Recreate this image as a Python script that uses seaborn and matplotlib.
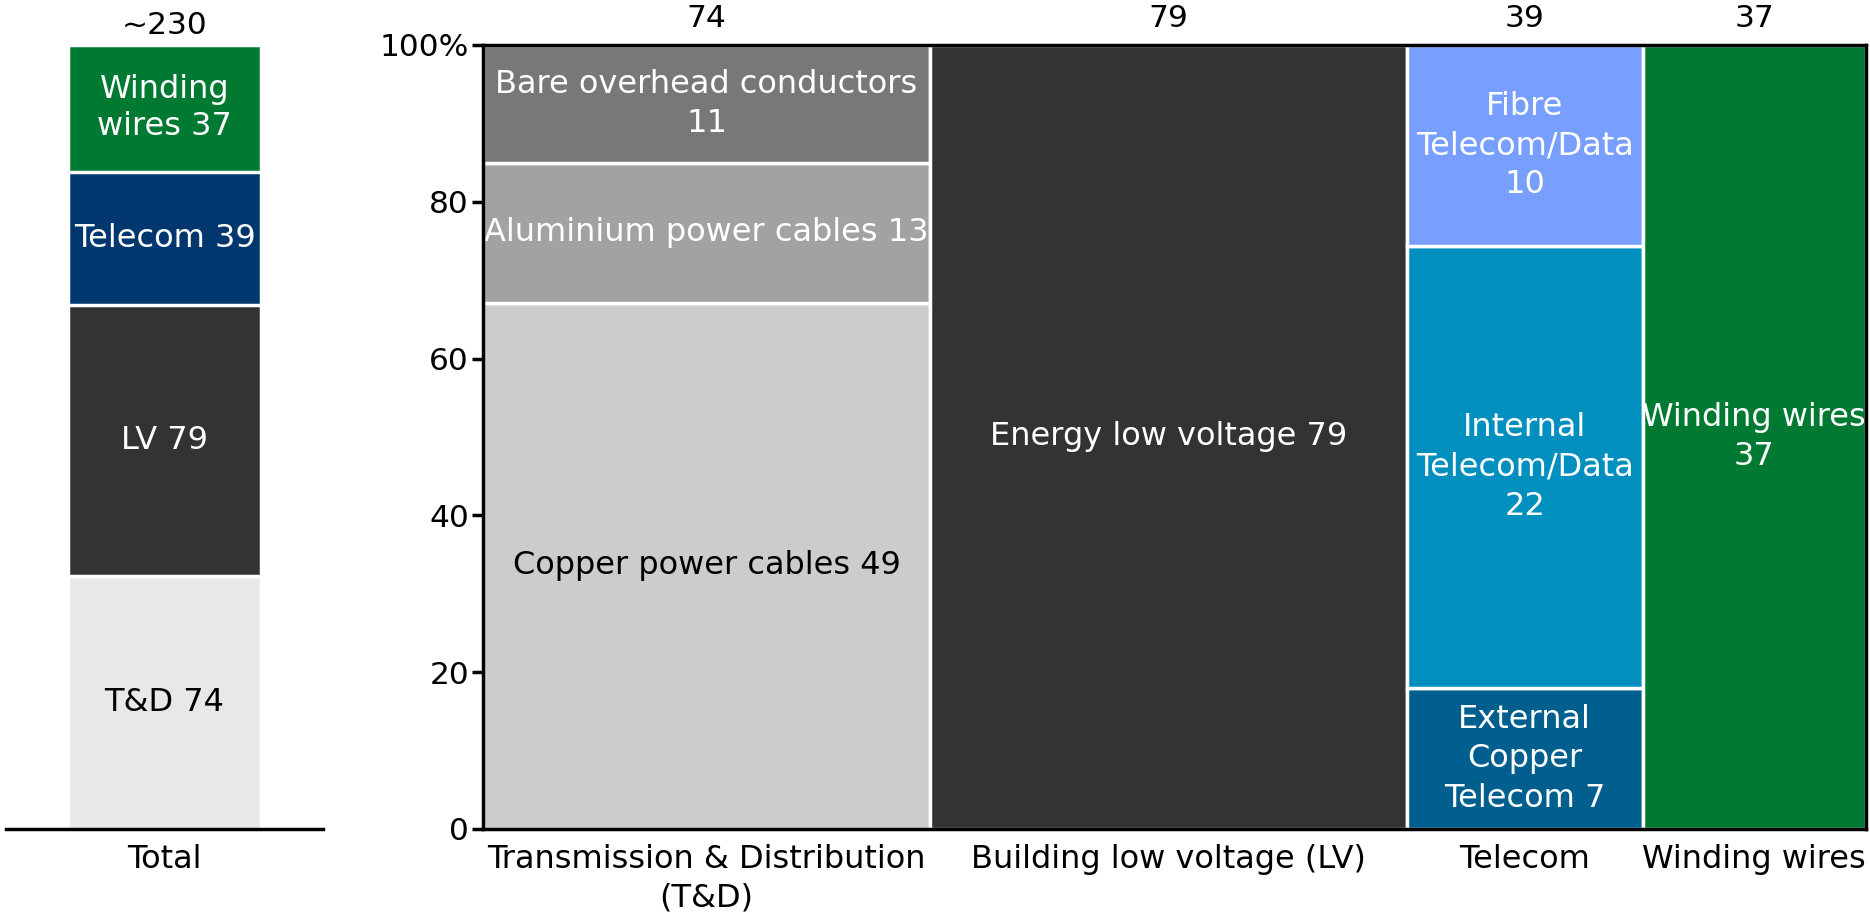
import numpy as np
import matplotlib
matplotlib.use("Agg")
import matplotlib.pyplot as plt
import seaborn as sns

sns.set_theme(style="white")
plt.rcParams['font.family'] = ['DejaVu Sans']
plt.rcParams['text.color'] = 'black'
plt.rcParams['xtick.color'] = 'black'
plt.rcParams['ytick.color'] = 'black'
plt.rcParams['axes.labelcolor'] = 'black'

# totals per market (left bar + column widths)
markets = ['Transmission & Distribution\n(T&D)', 'Building low voltage (LV)', 'Telecom', 'Winding wires']
market_totals = [74, 79, 39, 37]
total_labels = ['T&D 74', 'LV 79', 'Telecom 39', 'Winding\nwires 37']
total_colors = ['#e8e8e8', '#333333', '#00376f', '#007a33']
total_text = ['black', 'white', 'white', 'white']

# segments inside each column (bottom to top)
seg_values = [[49, 13, 11], [79], [7, 22, 10], [37]]
seg_labels = [
    ['Copper power cables 49', 'Aluminium power cables 13', 'Bare overhead conductors\n11'],
    ['Energy low voltage 79'],
    ['External\nCopper\nTelecom 7', 'Internal\nTelecom/Data\n22', 'Fibre\nTelecom/Data\n10'],
    ['Winding wires\n37'],
]
seg_colors = [['#cccccc', '#a2a2a2', '#787878'], ['#333333'],
              ['#005f8f', '#008fbe', '#789fff'], ['#007a33']]
seg_text = [['black', 'white', 'white'], ['white'], ['white', 'white', 'white'], ['white']]

W, H = 1870, 916
fig = plt.figure(figsize=(W / 100, H / 100), dpi=100)

# ---- left: total stacked bar ----
ax0 = fig.add_axes([6 / W, (H - 829) / H, (323 - 6) / W, (829 - 45) / H])
cum = np.cumsum(market_totals)
for i in reversed(range(len(market_totals))):
    sns.barplot(x=['Total'], y=[cum[i]], color=total_colors[i], saturation=1,
                width=0.609, edgecolor='white', linewidth=2.5, ax=ax0)
bottoms = cum - np.array(market_totals)
for i, v in enumerate(market_totals):
    ax0.text(0, bottoms[i] + v / 2, total_labels[i], ha='center', va='center',
             color=total_text[i], fontsize=23, linespacing=1.25)
ax0.set_xlim(-0.5, 0.5)
ax0.set_ylim(0, sum(market_totals))
ax0.text(0, sum(market_totals) + 1.5, '~230', ha='center', va='bottom', fontsize=22.5)
for s in ['left', 'right', 'top']:
    ax0.spines[s].set_visible(False)
ax0.spines['bottom'].set_linewidth(2.5)
ax0.spines['bottom'].set_color('black')
ax0.set_yticks([])
ax0.set_xlabel('')
ax0.set_ylabel('')
ax0.tick_params(axis='x', length=0, labelsize=23, pad=11)

# ---- right: mosaic ----
ax = fig.add_axes([483 / W, (H - 829) / H, (1866 - 483) / W, (829 - 45) / H])
total = sum(market_totals)
lefts = np.concatenate([[0], np.cumsum(market_totals)[:-1]])
for j, (vals, labs, cols, tcols) in enumerate(zip(seg_values, seg_labels, seg_colors, seg_text)):
    pct = np.array(vals) / sum(vals) * 100
    bot = 0
    for v, lab, c, tc in zip(pct, labs, cols, tcols):
        ax.bar(lefts[j], v, width=market_totals[j], bottom=bot, align='edge',
               color=c, edgecolor='white', linewidth=2.5)
        ax.text(lefts[j] + market_totals[j] / 2, bot + v / 2, lab, ha='center', va='center',
                color=tc, fontsize=23, linespacing=1.35)
        bot += v
    ax.text(lefts[j] + market_totals[j] / 2, 101.5, str(market_totals[j]),
            ha='center', va='bottom', fontsize=22.5)

ax.set_xlim(0, total)
ax.set_ylim(0, 100)
ax.set_xticks(lefts + np.array(market_totals) / 2)
ax.set_xticklabels(markets, fontsize=23, linespacing=1.3)
ax.set_yticks([0, 20, 40, 60, 80, 100])
ax.set_yticklabels(['0', '20', '40', '60', '80', '100%'], fontsize=22.5)
ax.tick_params(axis='x', length=0, pad=11)
ax.tick_params(axis='y', length=8, width=2.5, direction='out', color='black', pad=2, left=True)
for s in ax.spines.values():
    s.set_linewidth(2.5)
    s.set_color('black')
    s.set_zorder(5)

fig.savefig('out.png', dpi=100)
